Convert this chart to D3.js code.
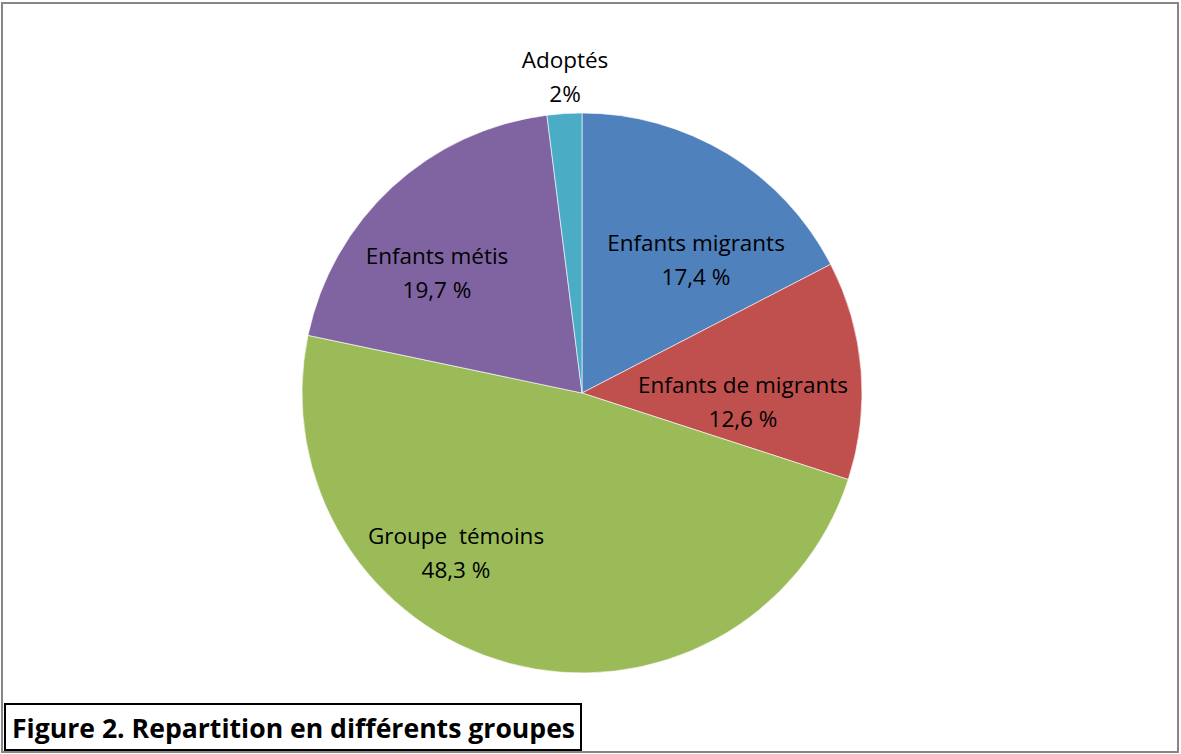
<!DOCTYPE html>
<html>
<head>
<meta charset="utf-8">
<script src="https://cdn.jsdelivr.net/npm/d3@7"></script>
<style>
  body { margin: 0; background: #fff; }
  svg { display: block; }
  .lbl { font-family: "Open Sans", sans-serif; fill: #000; white-space: pre; }
  .title { font-family: "Open Sans", sans-serif; font-weight: bold; fill: #000; }
</style>
</head>
<body>
<div id="chart"></div>
<script>
// data
const groups = ["Enfants migrants", "Enfants de migrants", "Groupe  témoins", "Enfants métis", "Adoptés"];
const shares = [17.4, 12.6, 48.3, 19.7, 2];
const shareLabels = ["17,4 %", "12,6 %", "48,3 %", "19,7 %", "2%"];
const colors = ["#4F81BD", "#C0504D", "#9BBB59", "#8064A2", "#4BACC6"];

// where each label sits, relative to the pie center (px)
const labelPos = [[114, -133], [161, 9], [-126, 160], [-145, -120], [-17, -316]];

const w = 1181;
const h = 754;
const cx = 582, cy = 393, r = 280;

const svg = d3.select("#chart")
    .append("svg")
    .attr("width", w)
    .attr("height", h);

// outer frame
svg.append("rect")
    .attr("x", 2).attr("y", 3)
    .attr("width", w - 5).attr("height", h - 5)
    .attr("fill", "none")
    .attr("stroke", "#868686")
    .attr("stroke-width", 2);

const pie = d3.pie().sort(null).value(d => d);
const arc = d3.arc().innerRadius(0).outerRadius(r);

const g = svg.append("g")
    .attr("transform", "translate(" + cx + "," + cy + ")");

g.selectAll("path")
    .data(pie(shares))
    .enter()
    .append("path")
    .attr("d", arc)
    .attr("fill", (d, i) => colors[i])
    .attr("stroke", "#fff")
    .attr("stroke-opacity", 0.6)
    .attr("stroke-width", 1);

const labels = g.selectAll("text.lbl")
    .data(groups)
    .enter()
    .append("text")
    .attr("class", "lbl")
    .attr("text-anchor", "middle")
    .style("font-size", "22.5px")
    .attr("transform", (d, i) => "translate(" + labelPos[i][0] + "," + labelPos[i][1] + ")");

labels.append("tspan")
    .attr("x", 0).attr("y", -9)
    .text(d => d);
labels.append("tspan")
    .attr("x", 0).attr("y", 25)
    .text((d, i) => shareLabels[i]);

// title box
svg.append("rect")
    .attr("x", 5).attr("y", 704)
    .attr("width", 576).attr("height", 46)
    .attr("fill", "#fff")
    .attr("stroke", "#000")
    .attr("stroke-width", 2);

svg.append("text")
    .attr("class", "title")
    .attr("x", 12)
    .attr("y", 738)
    .style("font-size", "26.6px")
    .text("Figure 2. Repartition en différents groupes");
</script>
</body>
</html>
